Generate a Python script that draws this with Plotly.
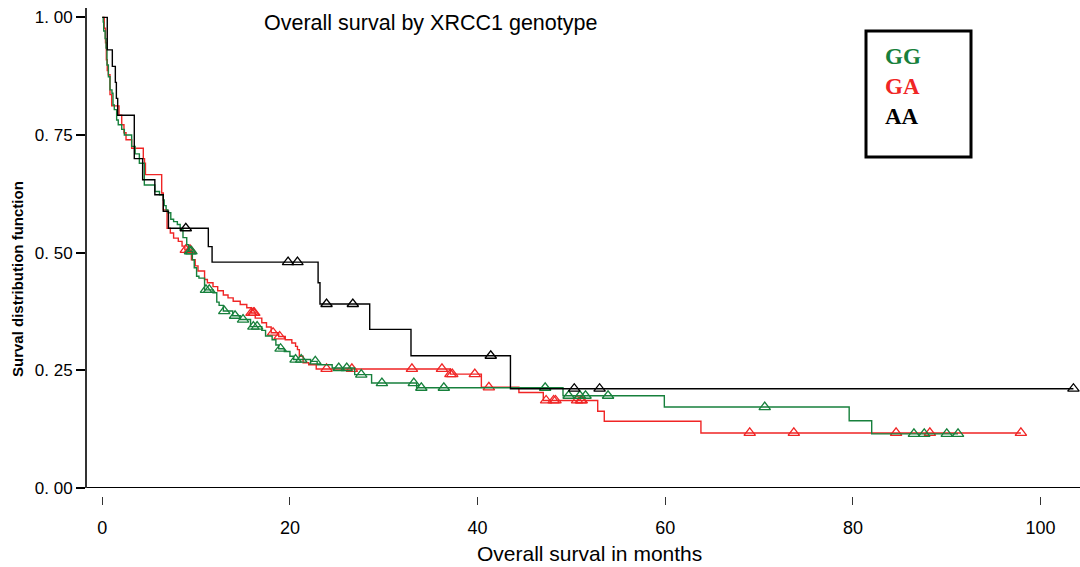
import numpy as np
import plotly.graph_objects as go

# ---- Kaplan-Meier step data ----
gg_times = [0, 0.1, 0.15, 0.3, 0.4, 0.5, 0.65, 0.82, 1.03, 1.14, 1.28, 1.53, 1.7, 2.07, 2.35,
            3.13, 3.5, 3.95, 4.48, 5.6, 6.1, 6.5, 6.6, 6.8, 7.0, 7.3, 7.6, 8.0, 8.3, 8.6, 9.0,
            9.2, 9.6, 9.8, 10.05, 10.3, 10.9, 11.8, 12.2, 12.45, 12.9, 13.9, 14.7, 15.8, 17.0,
            17.4, 18.1, 18.5, 18.8, 19.4, 20.0, 20.4, 22.2, 22.9, 24.5, 26.9, 28.7, 33.5, 49.1,
            59.9, 79.6, 82.0]
gg_surv = [1.0, 0.99, 0.971, 0.955, 0.935, 0.899, 0.874, 0.846, 0.839, 0.814, 0.804, 0.782, 0.772,
           0.762, 0.75, 0.726, 0.71, 0.69, 0.644, 0.630, 0.623, 0.612, 0.60, 0.591, 0.585, 0.571,
           0.566, 0.56, 0.549, 0.532, 0.517, 0.503, 0.485, 0.468, 0.45, 0.446, 0.421, 0.415, 0.395,
           0.388, 0.376, 0.366, 0.358, 0.343, 0.335, 0.323, 0.315, 0.304, 0.296, 0.29, 0.28, 0.273,
           0.269, 0.262, 0.255, 0.241, 0.223, 0.213, 0.196, 0.172, 0.143, 0.115]
gg_end = 91.2
gg_censor = [9.35, 9.5, 11.05, 11.4, 13.0, 14.15, 15.0, 16.1, 16.5, 19.0, 20.6, 21.2, 22.7, 25.2,
             26.05, 27.6, 29.8, 33.2, 34.0, 36.4, 47.2, 49.7, 50.9, 51.5, 53.9, 70.6, 86.5, 87.6,
             90.0, 91.2]

ga_times = [0, 0.21, 0.34, 0.43, 0.53, 0.64, 0.82, 1.0, 1.78, 2.07, 2.31, 2.53, 3.13, 4.37, 4.5,
            4.6, 6.33, 6.5, 6.9, 7.25, 7.6, 8.1, 8.5, 8.8, 9.5, 9.9, 10.2, 10.9, 11.2, 11.8, 12.3,
            12.9, 13.4, 13.95, 14.7, 15.4, 15.9, 16.3, 17.0, 17.5, 18.0, 18.8, 19.5, 20.2, 20.6,
            20.8, 21.0, 21.4, 22.0, 22.8, 37.1, 40.4, 44.4, 47.0, 52.8, 53.5, 63.8]
ga_surv = [1.0, 0.977, 0.946, 0.91, 0.887, 0.878, 0.836, 0.812, 0.792, 0.772, 0.755, 0.740, 0.722,
           0.70, 0.69, 0.666, 0.627, 0.591, 0.552, 0.542, 0.531, 0.524, 0.514, 0.506, 0.485, 0.472,
           0.461, 0.443, 0.436, 0.428, 0.419, 0.410, 0.404, 0.397, 0.390, 0.383, 0.372, 0.361,
           0.351, 0.342, 0.330, 0.322, 0.315, 0.308, 0.301, 0.294, 0.280, 0.266, 0.262, 0.253,
           0.242, 0.214, 0.203, 0.186, 0.163, 0.142, 0.117]
ga_end = 97.9
ga_censor = [8.9, 9.35, 15.9, 16.1, 16.2, 18.2, 18.9, 23.9, 26.6, 33.0, 36.2, 37.1, 37.3, 39.7,
             41.2, 47.3, 48.1, 48.3, 50.6, 51.0, 51.1, 69.0, 73.7, 84.6, 88.2, 97.9]

aa_times = [0, 0.53, 1.07, 1.39, 1.50, 1.64, 3.41, 4.3, 5.6, 6.5, 7.05, 11.3, 11.7, 23.0, 23.2,
            28.5, 32.9, 43.5]
aa_surv = [1.0, 0.931, 0.896, 0.862, 0.828, 0.792, 0.70, 0.655, 0.623, 0.588, 0.552, 0.513, 0.48,
           0.436, 0.391, 0.337, 0.281, 0.211]
aa_end = 103.5
aa_censor = [8.9, 19.8, 20.8, 23.9, 26.7, 41.4, 50.3, 53.0, 103.5]

groups = ["GG", "GA", "AA"]
colors = {"GG": "#17803c", "GA": "#f02525", "AA": "#000000"}

x_ticks = [0, 20, 40, 60, 80, 100]
y_ticks = [0.0, 0.25, 0.5, 0.75, 1.0]
y_ticktext = ["0. 00", "0. 25", "0. 50", "0. 75", "1. 00"]

data = {
    "GG": (gg_times, gg_surv, gg_end, gg_censor),
    "GA": (ga_times, ga_surv, ga_end, ga_censor),
    "AA": (aa_times, aa_surv, aa_end, aa_censor),
}

fig = go.Figure()
for g in ["GA", "GG", "AA"]:
    t, s, end, cens = data[g]
    xs = list(t) + [end]
    ys = list(s) + [s[-1]]
    fig.add_trace(go.Scatter(x=xs, y=ys, mode="lines", line=dict(color=colors[g], width=1.4, shape="hv"),
                             showlegend=False, hoverinfo="skip"))
    idx = np.searchsorted(np.array(t), np.array(cens), side="right") - 1
    cy = np.array(s)[idx]
    fig.add_trace(go.Scatter(x=cens, y=cy, mode="markers",
                             marker=dict(symbol="triangle-up-open", size=10, color=colors[g],
                                         line=dict(width=1.3, color=colors[g])),
                             showlegend=False, hoverinfo="skip"))

W, H = 1080, 567
L, R, T, B = 87, 0, 8, 71
pw, ph = W - L - R, H - T - B

def px(xp):
    return (xp - L) / pw

def py(yp):
    return (H - B - yp) / ph

fig.update_layout(
    width=W, height=H, autosize=False,
    margin=dict(l=L, r=R, t=T, b=B),
    paper_bgcolor="white", plot_bgcolor="white",
    font=dict(family="Liberation Sans, Arial, sans-serif", color="black"),
    xaxis=dict(range=[-1.63, 104.2], anchor="free", position=0, showline=False, showgrid=False,
               zeroline=False, tickvals=x_ticks, ticktext=[str(v) for v in x_ticks],
               ticks="outside", ticklen=8, tickwidth=1, tickcolor="#333",
               tickfont=dict(size=18, family="Liberation Sans, Arial"), ticklabelstandoff=7),
    yaxis=dict(range=[0, 1.02], domain=[8 / ph, 1], showline=True, linewidth=2, linecolor="#333",
               showgrid=False, zeroline=False, tickvals=y_ticks, ticktext=y_ticktext,
               ticks="outside", ticklen=9, tickwidth=1.5, tickcolor="black",
               tickfont=dict(size=17, family="Liberation Sans, Arial")),
)

# bottom axis line
fig.add_shape(type="line", xref="paper", yref="y", x0=0, x1=1, y0=0, y1=0,
              line=dict(color="black", width=2))

# legend box
fig.add_shape(type="rect", xref="paper", yref="paper",
              x0=px(866), x1=px(971), y0=py(157), y1=py(31),
              line=dict(color="black", width=3), fillcolor="white", layer="below")
for g, yp in zip(groups, [56.7, 86.7, 116.7]):
    fig.add_annotation(x=px(883), y=py(yp), xref="paper", yref="paper", text="<b>%s</b>" % g,
                       showarrow=False, xanchor="left", yanchor="middle",
                       font=dict(family="Liberation Serif, Times New Roman, serif", size=23,
                                 color=colors[g]))

# title
fig.add_annotation(x=px(430), y=py(23), xref="paper", yref="paper",
                   text="Overall surval by XRCC1 genotype", showarrow=False,
                   xanchor="center", yanchor="middle", font=dict(size=21.5))
# axis titles
fig.add_annotation(x=px(589), y=py(553), xref="paper", yref="paper",
                   text="Overall surval in months", showarrow=False,
                   xanchor="center", yanchor="middle", font=dict(size=21))
fig.add_annotation(x=px(17), y=py(279), xref="paper", yref="paper",
                   text="<b>Surval distribution function</b>", showarrow=False, textangle=-90,
                   xanchor="center", yanchor="middle", font=dict(size=15))

fig.write_html("out.html")
